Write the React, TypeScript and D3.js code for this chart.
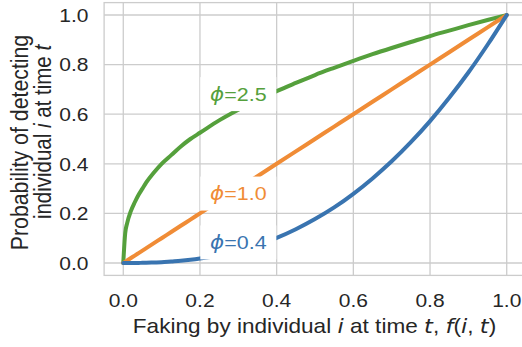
import React from 'react';
import * as d3 from 'd3';

// values
const xs = [0, 0.005, 0.01, 0.02, 0.03, 0.04, 0.05, 0.06, 0.08, 0.1, 0.125, 0.15, 0.175, 0.2, 0.25, 0.3, 0.35, 0.4, 0.45, 0.5, 0.55, 0.6, 0.65, 0.7, 0.75, 0.8, 0.85, 0.9, 0.95, 1.0];
const greenY = [0, 0.12, 0.16, 0.21, 0.245, 0.275, 0.3, 0.325, 0.365, 0.4, 0.435, 0.47, 0.5, 0.525, 0.575, 0.618, 0.657, 0.693, 0.726, 0.758, 0.787, 0.815, 0.842, 0.867, 0.891, 0.915, 0.937, 0.959, 0.98, 1.0];
const orangeY = [0, 0.005, 0.01, 0.02, 0.03, 0.04, 0.05, 0.06, 0.08, 0.1, 0.125, 0.15, 0.175, 0.2, 0.25, 0.3, 0.35, 0.4, 0.45, 0.5, 0.55, 0.6, 0.65, 0.7, 0.75, 0.8, 0.85, 0.9, 0.95, 1.0];
const blueY = [0, 0, 0, 0, 0, 0, 0.001, 0.001, 0.002, 0.003, 0.006, 0.009, 0.013, 0.018, 0.031, 0.049, 0.072, 0.101, 0.136, 0.177, 0.224, 0.279, 0.341, 0.41, 0.487, 0.572, 0.666, 0.768, 0.88, 1.0];

const ticks = [0, 0.2, 0.4, 0.6, 0.8, 1.0];
const tickLabels = ['0.0', '0.2', '0.4', '0.6', '0.8', '1.0'];

const series = [
  { name: '2.5', color: '#55a03c', ys: greenY, lx: 0.3, ly: 0.681 },
  { name: '1.0', color: '#f08c36', ys: orangeY, lx: 0.3, ly: 0.28 },
  { name: '0.4', color: '#3974b0', ys: blueY, lx: 0.3, ly: 0.083 },
];

const W = 522;
const H = 347;
const grid = '#cccccc';
const ink = '#262626';
const font = '"Liberation Sans", Arial, sans-serif';
const mathFont = '"DejaVu Sans", sans-serif';
const sx = 1.13; // the picture's text is stretched horizontally

const x = d3.scaleLinear().domain([-0.05, 1.05]).range([104.1, 525.9]);
const y = d3.scaleLinear().domain([-0.05, 1.05]).range([275.4, 2.6]);

const M = ({ children, f = mathFont }: { children: React.ReactNode; f?: string }) => (
  <tspan fontFamily={f} fontStyle="italic">{children}</tspan>
);

const App = () => {
  const line = d3.line<number>()
    .x((_, i) => x(xs[i]))
    .y((d) => y(d))
    .curve(d3.curveMonotoneX);

  const [x0, x1] = x.range();
  const [y0, y1] = y.range();

  return (
    <svg width={W} height={H} style={{ position: 'absolute', left: 0, top: 0, background: '#fff' }}>
      <rect x={0} y={0} width={W} height={H} fill="#fff" />
      {/* grid */}
      {ticks.map((t) => (
        <g key={'g' + t}>
          <line x1={x(t)} x2={x(t)} y1={y1} y2={y0} stroke={grid} strokeWidth={1.3} />
          <line x1={x0} x2={x1} y1={y(t)} y2={y(t)} stroke={grid} strokeWidth={1.3} />
        </g>
      ))}
      <rect x={x0} y={y1} width={x1 - x0} height={y0 - y1} fill="none" stroke={grid} strokeWidth={1.3} />

      {/* curves */}
      {series.map((s) => (
        <path key={s.name} d={line(s.ys) || ''} fill="none" stroke={s.color} strokeWidth={4} strokeLinejoin="round" strokeLinecap="round" />
      ))}

      {/* curve labels */}
      {series.map((s) => (
        <g key={'l' + s.name} transform={`translate(${x(s.lx)},${y(s.ly)})`}>
          <rect x={-38} y={-17} width={76} height={34} fill="#fff" />
          <text transform={`scale(${sx},1)`} textAnchor="middle" dy="0.36em" fontSize={19} fill={s.color} fontFamily={font}>
            <M>ϕ</M>={s.name}
          </text>
        </g>
      ))}

      {/* tick labels */}
      {ticks.map((t, i) => (
        <text key={'xt' + t} transform={`translate(${x(t)},306.5) scale(${sx},1)`} textAnchor="middle" fontSize={18.6} fill={ink} fontFamily={font}>
          {tickLabels[i]}
        </text>
      ))}
      {ticks.map((t, i) => (
        <text key={'yt' + t} transform={`translate(88.5,${y(t)}) scale(${sx},1)`} dy="0.36em" textAnchor="end" fontSize={18.6} fill={ink} fontFamily={font}>
          {tickLabels[i]}
        </text>
      ))}

      {/* axis labels */}
      <text transform={`translate(314.5,333) scale(${sx},1)`} textAnchor="middle" fontSize={20} fill={ink} fontFamily={font}>
        Faking by individual <M>i</M> at time <M>t</M>, <M>f</M>(<M>i</M>, <M>t</M>)
      </text>
      <text transform={`translate(28,142.5) scale(${sx},1) rotate(-90)`} textAnchor="middle" fontSize={21.3} fill={ink} fontFamily={font}>
        Probability of detecting
      </text>
      <text transform={`translate(51,132) scale(${sx},1) rotate(-90)`} textAnchor="middle" fontSize={20.5} fill={ink} fontFamily={font}>
        individual <M f={font}>i</M> at time <M f={font}>t</M>
      </text>
    </svg>
  );
};

export default App;
